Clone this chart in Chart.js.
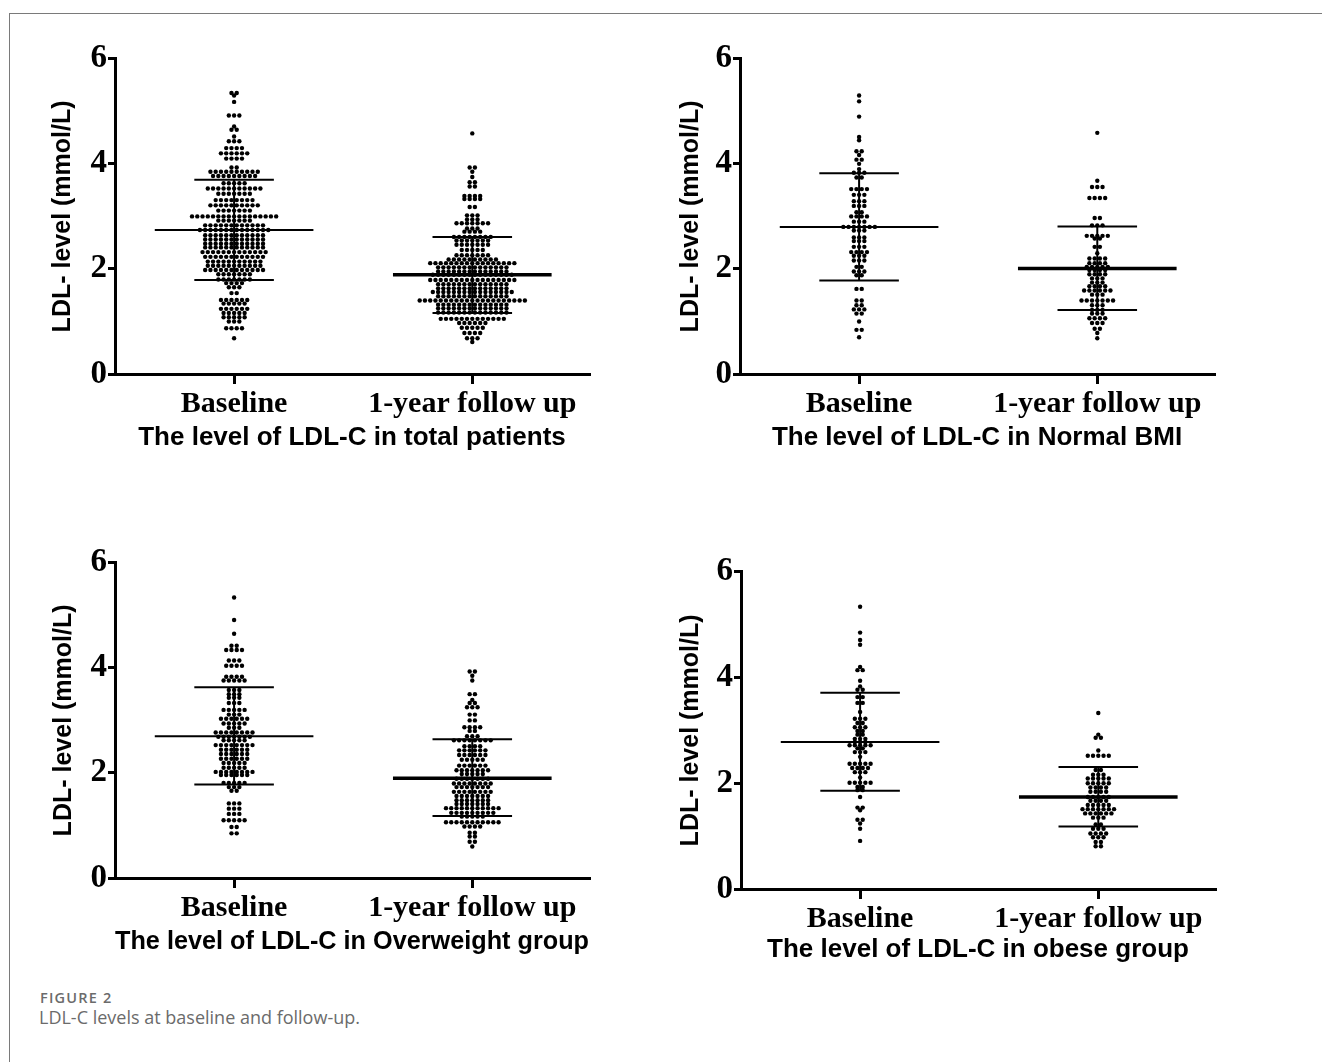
<!DOCTYPE html>
<html>
<head>
<meta charset="utf-8">
<title>LDL-C levels at baseline and follow-up</title>
<script src="https://cdn.jsdelivr.net/npm/chart.js@4.4.1/dist/chart.umd.min.js"></script>
<style>
  body { margin: 0; background: #fff; }
  #page { position: relative; width: 1322px; height: 1062px; overflow: hidden; background: #fff; }
  #frame { position: absolute; left: 9px; top: 13px; width: 1330px; height: 1060px;
           border-left: 1px solid #7a7a7a; border-top: 1px solid #7a7a7a; }
  canvas { position: absolute; }
  .fig-label { position: absolute; font-family: "Open Sans", sans-serif; font-weight: 600;
               font-size: 14.5px; letter-spacing: 1.2px; color: #6b6b6b; line-height: 18px; }
  .fig-caption { position: absolute; font-family: "Open Sans", sans-serif; font-size: 18px;
                 color: #6b6b6b; line-height: 22px; }
</style>
</head>
<body>
<div id="page">
  <div id="frame"></div>
  <div class="fig-label" style="left:40px;top:989px">FIGURE 2</div>
  <div class="fig-caption" style="left:39px;top:1006px">LDL-C levels at baseline and follow-up.</div>
</div>
<script>
// ---- data ----
const categories = ['Baseline', '1-year follow up'];
const yTickValues = [0, 2, 4, 6];
const yTitle = 'LDL- level (mmol/L)';
const panelTitles = [
  'The level of LDL-C in total patients',
  'The level of LDL-C in Normal BMI',
  'The level of LDL-C in Overweight group',
  'The level of LDL-C in obese group'
];

// total patients: each level is one row of dots, counts = dots in that row
const totalBaseLevels = [5.35, 5.30, 5.18, 4.92, 4.71, 4.65, 4.52, 4.43, 4.30, 4.20,
  4.10, 3.93, 3.85, 3.77, 3.63, 3.53, 3.43, 3.31, 3.21, 3.11,
  3.00, 2.92, 2.83, 2.74, 2.64, 2.56, 2.48, 2.41, 2.32, 2.23,
  2.14, 2.06, 1.98, 1.90, 1.80, 1.73, 1.65, 1.54, 1.41, 1.34,
  1.24, 1.16, 1.08, 1.00, 0.87, 0.68];
const totalBaseCounts = [2, 1, 1, 3, 1, 2, 1, 3, 4, 6,
  4, 2, 10, 9, 5, 11, 7, 8, 10, 7,
  17, 7, 12, 14, 12, 12, 12, 12, 13, 12,
  11, 11, 12, 7, 7, 4, 3, 2, 6, 5,
  6, 5, 5, 3, 4, 1];
const totalFollowLevels = [4.58, 3.93, 3.85, 3.75, 3.65, 3.57, 3.39, 3.33, 3.18, 3.02,
  2.94, 2.87, 2.77, 2.71, 2.61, 2.54, 2.46, 2.36, 2.26, 2.18,
  2.11, 2.03, 1.95, 1.89, 1.79, 1.71, 1.63, 1.56, 1.48, 1.40,
  1.32, 1.25, 1.17, 1.05, 0.97, 0.88, 0.78, 0.68, 0.61];
const totalFollowCounts = [1, 2, 1, 1, 2, 2, 4, 4, 2, 3,
  3, 7, 3, 4, 8, 7, 7, 5, 7, 10,
  17, 14, 14, 16, 17, 14, 14, 16, 14, 21,
  14, 14, 14, 13, 6, 5, 4, 3, 1];
const totalMean = [2.74, 1.89];
const totalSdLow = [1.79, 1.16];
const totalSdHigh = [3.70, 2.61];

// normal BMI
const normalBaseLevels = [5.30, 5.19, 4.90, 4.51, 4.45, 4.24, 4.17, 4.08, 4.00, 3.90,
  3.83, 3.74, 3.52, 3.41, 3.29, 3.20, 3.08, 3.00, 2.90, 2.80,
  2.73, 2.60, 2.53, 2.42, 2.32, 2.25, 2.16, 2.04, 1.95, 1.88,
  1.62, 1.40, 1.31, 1.23, 1.15, 1.00, 0.84, 0.70];
const normalBaseCounts = [1, 1, 1, 1, 1, 2, 1, 2, 1, 1,
  3, 2, 4, 3, 3, 3, 2, 4, 3, 7,
  3, 3, 3, 3, 4, 3, 3, 2, 3, 2,
  2, 2, 2, 3, 2, 1, 2, 1];
const normalFollowLevels = [4.59, 3.68, 3.56, 3.35, 2.97, 2.83, 2.63, 2.58, 2.42, 2.30,
  2.20, 2.11, 2.04, 1.98, 1.90, 1.82, 1.74, 1.67, 1.59, 1.51,
  1.40, 1.31, 1.22, 1.15, 1.06, 0.97, 0.86, 0.78, 0.68];
const normalFollowCounts = [1, 1, 3, 4, 2, 3, 5, 2, 2, 1,
  4, 4, 5, 4, 4, 3, 3, 4, 6, 3,
  7, 3, 3, 3, 4, 3, 2, 1, 1];
const normalMean = [2.80, 2.01];
const normalSdLow = [1.78, 1.22];
const normalSdHigh = [3.82, 2.81];

// overweight
const overBaseLevels = [5.34, 4.91, 4.65, 4.42, 4.34, 4.14, 4.04, 3.83, 3.76, 3.58,
  3.50, 3.43, 3.33, 3.20, 3.11, 3.03, 2.94, 2.86, 2.77, 2.69,
  2.62, 2.53, 2.44, 2.36, 2.27, 2.19, 2.10, 2.02, 1.96, 1.81,
  1.73, 1.66, 1.42, 1.32, 1.22, 1.10, 0.97, 0.85];
const overBaseCounts = [1, 1, 1, 2, 4, 3, 4, 4, 5, 3,
  3, 3, 3, 5, 3, 6, 5, 3, 8, 7,
  5, 8, 6, 6, 6, 5, 5, 8, 6, 5,
  3, 2, 3, 3, 3, 5, 2, 2];
const overFollowLevels = [3.93, 3.85, 3.76, 3.50, 3.39, 3.33, 3.25, 3.11, 3.00, 2.87,
  2.80, 2.70, 2.62, 2.51, 2.43, 2.34, 2.25, 2.14, 2.05, 1.98,
  1.89, 1.80, 1.73, 1.64, 1.56, 1.48, 1.41, 1.33, 1.24, 1.17,
  1.06, 0.98, 0.86, 0.79, 0.69, 0.60];
const overFollowCounts = [2, 1, 1, 2, 1, 2, 3, 2, 2, 4,
  2, 3, 8, 4, 6, 6, 5, 6, 7, 5,
  7, 8, 7, 8, 7, 7, 7, 11, 9, 5,
  11, 4, 2, 2, 2, 1];
const overMean = [2.70, 1.90];
const overSdLow = [1.78, 1.18];
const overSdHigh = [3.63, 2.64];

// obese
const obeseBaseLevels = [5.34, 4.85, 4.71, 4.62, 4.20, 4.14, 3.94, 3.83, 3.77, 3.63,
  3.52, 3.35, 3.22, 3.14, 3.06, 2.99, 2.92, 2.84, 2.78, 2.72,
  2.66, 2.59, 2.50, 2.37, 2.29, 2.21, 2.11, 2.01, 1.93, 1.87,
  1.74, 1.54, 1.49, 1.31, 1.24, 1.14, 0.91];
const obeseBaseCounts = [1, 1, 1, 1, 1, 2, 1, 1, 2, 2,
  2, 1, 3, 2, 3, 2, 2, 3, 3, 5,
  2, 3, 1, 5, 4, 3, 1, 5, 2, 2,
  1, 2, 1, 2, 1, 1, 1];
const obeseFollowLevels = [3.33, 2.92, 2.86, 2.62, 2.52, 2.25, 2.16, 2.09, 2.00, 1.92,
  1.84, 1.74, 1.67, 1.59, 1.51, 1.43, 1.35, 1.22, 1.14, 1.05,
  0.98, 0.89, 0.81];
const obeseFollowCounts = [1, 1, 2, 1, 5, 2, 3, 5, 5, 4,
  4, 5, 4, 5, 7, 6, 3, 2, 3, 4,
  3, 2, 2];
const obeseMean = [2.78, 1.74];
const obeseSdLow = [1.86, 1.18];
const obeseSdHigh = [3.71, 2.31];

// ---- layout ----
const X_MIN = 0.5, X_MAX = 2.49;
const DOT_STEP = 5.3 / 240;   // gap between dots in a row, in x units
const MEAN_HALF = 0.333;
const CAP_HALF = 0.167;

const panelBoxes = [
  { left: 48,  top: 38,  width: 545, height: 415, yAxisWidth: 67, xAxisHeight: 79 },
  { left: 676, top: 38,  width: 542, height: 415, yAxisWidth: 64, xAxisHeight: 79 },
  { left: 49,  top: 542, width: 544, height: 415, yAxisWidth: 66, xAxisHeight: 79 },
  { left: 676, top: 551, width: 543, height: 414, yAxisWidth: 65, xAxisHeight: 76 }
];

const panelData = [
  [totalBaseLevels, totalBaseCounts, totalFollowLevels, totalFollowCounts, totalMean, totalSdLow, totalSdHigh],
  [normalBaseLevels, normalBaseCounts, normalFollowLevels, normalFollowCounts, normalMean, normalSdLow, normalSdHigh],
  [overBaseLevels, overBaseCounts, overFollowLevels, overFollowCounts, overMean, overSdLow, overSdHigh],
  [obeseBaseLevels, obeseBaseCounts, obeseFollowLevels, obeseFollowCounts, obeseMean, obeseSdLow, obeseSdHigh]
];

// spread each row of dots sideways around the group position
function swarm(levels, counts, center) {
  const pts = [];
  levels.forEach((v, i) => {
    const n = counts[i];
    for (let k = 0; k < n; k++) {
      pts.push({ x: center + (k - (n - 1) / 2) * DOT_STEP, y: v });
    }
  });
  return pts;
}

function seg(x1, y1, x2, y2, w) {
  return {
    data: [{ x: x1, y: y1 }, { x: x2, y: y2 }],
    showLine: true,
    borderColor: '#000',
    borderWidth: w,
    borderCapStyle: 'butt',
    pointRadius: 0,
    order: 0
  };
}

function barSets(center, mean, lo, hi, meanWidth) {
  return [
    seg(center - MEAN_HALF, mean, center + MEAN_HALF, mean, meanWidth),
    seg(center - CAP_HALF, hi, center + CAP_HALF, hi, 2),
    seg(center - CAP_HALF, lo, center + CAP_HALF, lo, 2),
    seg(center, lo, center, hi, 2)
  ];
}

function dots(points) {
  return {
    data: points,
    pointRadius: 2.2,
    pointBackgroundColor: '#000',
    pointBorderWidth: 0,
    order: 1
  };
}

const page = document.getElementById('page');

panelBoxes.forEach((box, i) => {
  const [bl, bc, fl, fc, mean, lo, hi] = panelData[i];
  const canvas = document.createElement('canvas');
  canvas.width = box.width;
  canvas.height = box.height;
  canvas.style.left = box.left + 'px';
  canvas.style.top = box.top + 'px';
  page.appendChild(canvas);

  const datasets = [
    ...barSets(1, mean[0], lo[0], hi[0], 2),
    ...barSets(2, mean[1], lo[1], hi[1], 3.5),
    dots(swarm(bl, bc, 1)),
    dots(swarm(fl, fc, 2))
  ];

  new Chart(canvas, {
    type: 'scatter',
    data: { datasets },
    options: {
      responsive: false,
      animation: false,
      layout: { padding: { top: 20, left: 0, right: 0, bottom: 0 } },
      plugins: { legend: { display: false }, tooltip: { enabled: false } },
      scales: {
        x: {
          type: 'linear',
          min: X_MIN,
          max: X_MAX,
          afterBuildTicks: s => { s.ticks = [{ value: 1 }, { value: 2 }]; },
          afterFit: s => { s.height = box.xAxisHeight; },
          ticks: {
            autoSkip: false,
            maxRotation: 0,
            padding: 2,
            color: '#000',
            font: { family: 'Liberation Serif', size: 30, weight: 'bold' },
            callback: (v, idx) => categories[idx]
          },
          grid: { drawOnChartArea: false, drawTicks: true, tickLength: 10, lineWidth: 3, color: '#000' },
          border: { display: true, width: 3, color: '#000' },
          title: {
            display: true,
            text: panelTitles[i],
            color: '#000',
            padding: 0,
            font: { family: 'Liberation Sans', size: 26, weight: 'bold' }
          }
        },
        y: {
          type: 'linear',
          min: 0,
          max: 6,
          afterBuildTicks: s => { s.ticks = yTickValues.map(v => ({ value: v })); },
          afterFit: s => { s.width = box.yAxisWidth; },
          ticks: {
            padding: 1,
            color: '#000',
            font: { family: 'Liberation Serif', size: 33, weight: 'bold' },
            callback: v => String(v)
          },
          grid: { drawOnChartArea: false, drawTicks: true, tickLength: 7, lineWidth: 3, color: '#000' },
          border: { display: true, width: 3, color: '#000' },
          title: {
            display: true,
            text: yTitle,
            color: '#000',
            padding: 0,
            font: { family: 'Liberation Sans', size: 25, weight: 'bold' }
          }
        }
      }
    }
  });
});
</script>
</body>
</html>
